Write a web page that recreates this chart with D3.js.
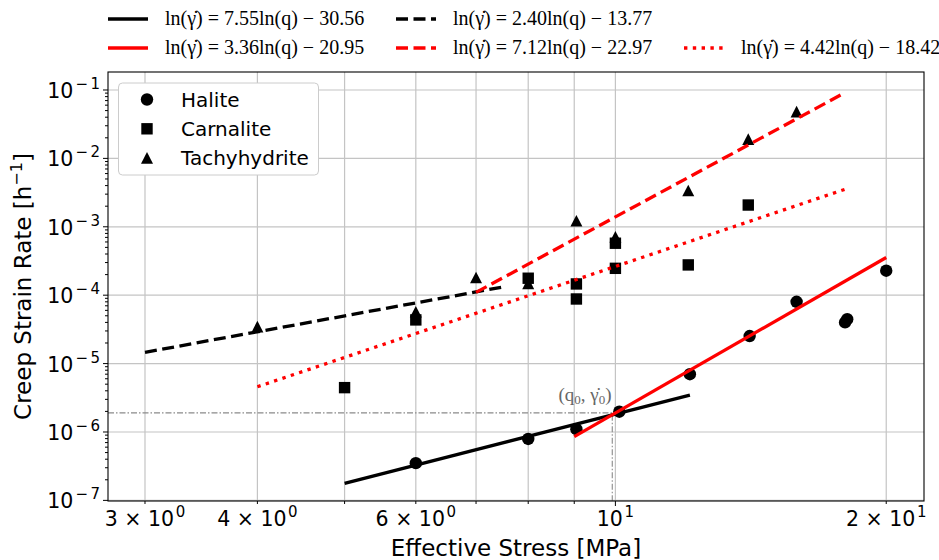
<!DOCTYPE html>
<html>
<head>
<meta charset="utf-8">
<script src="https://cdn.jsdelivr.net/npm/d3@7"></script>
<style>
  body { margin: 0; background: #fff; }
  svg text { font-family: "DejaVu Sans", sans-serif; fill: #000; }
  .serif { font-family: "Liberation Serif", "DejaVu Serif", serif; }
</style>
</head>
<body>
<svg id="chart" width="939" height="560"></svg>
<script>
// ---- measured creep data: effective stress q [MPa] vs. strain rate [1/h] ----
const haliteQ    = [6.0, 8.0, 9.05, 10.1, 12.1, 14.1, 15.9, 18.0, 18.1, 20.0];
const haliteRate = [3.5e-7, 7.9e-7, 1.1e-6, 1.98e-6, 7.0e-6, 2.53e-5, 8.0e-5, 4.0e-5, 4.45e-5, 2.28e-4];

const carnaliteQ    = [5.0, 6.0, 8.0, 9.05, 9.05, 10.0, 10.0, 12.05, 14.05];
const carnaliteRate = [4.45e-6, 4.35e-5, 1.77e-4, 1.46e-4, 8.8e-5, 5.75e-4, 2.47e-4, 2.77e-4, 2.08e-3];

const tachyQ    = [4.0, 6.0, 7.0, 8.0, 9.05, 10.0, 12.05, 14.05, 15.9];
const tachyRate = [3.45e-5, 5.7e-5, 1.8e-4, 1.48e-4, 1.22e-3, 7.1e-4, 3.37e-3, 1.9e-2, 4.8e-2];

// ---- power-law fits ln(rate) = a ln(q) + b, drawn between qStart and qEnd ----
const fitSlope     = [3.36, 7.55, 2.40, 7.12, 4.42];
const fitIntercept = [-20.95, -30.56, -13.77, -22.97, -18.42];
const fitQStart    = [5.0, 9.0, 3.0, 7.0, 4.0];
const fitQEnd      = [12.1, 20.0, 7.5, 18.0, 18.0];

// legend texts of the fit lines (same order as the fits above)
const fitLabels = [
  "7.55ln(q) − 30.56",
  "3.36ln(q) − 20.95",
  "2.40ln(q) − 13.77",
  "7.12ln(q) − 22.97",
  "4.42ln(q) − 18.42"
];

// transition point between the two halite regimes
const q0 = 9.92;
const rate0 = 1.9e-6;

// axis ticks
const xGridTicks  = [3, 4, 5, 6, 7, 8, 9, 10, 20];
const xLabelTicks = [3, 4, 6, 10, 20];
const xLabelMant  = ["3 × 10", "4 × 10", "6 × 10", "10", "2 × 10"];
const xLabelExp   = ["0", "0", "0", "1", "1"];
const yDecades    = [-7, -6, -5, -4, -3, -2, -1];

// ---------------------------------------------------------------------------
const svg = d3.select("#chart");
const L = 108, R = 924, T = 72, B = 501;

const x = d3.scaleLog().domain([2.729, 22.03]).range([L, R]);
const y = d3.scaleLog().domain([Math.pow(10, -7.009), Math.pow(10, -0.737)]).range([B, T]);

svg.append("defs").append("clipPath").attr("id", "plotclip")
  .append("rect").attr("x", L).attr("y", T).attr("width", R - L).attr("height", B - T);

// grid
const grid = svg.append("g").attr("stroke", "#c4c4c4").attr("stroke-width", 1.2);
grid.selectAll("line.gx").data(xGridTicks).join("line")
  .attr("x1", d => x(d)).attr("x2", d => x(d)).attr("y1", T).attr("y2", B);
grid.selectAll("line.gy").data(yDecades).join("line")
  .attr("y1", d => y(Math.pow(10, d))).attr("y2", d => y(Math.pow(10, d))).attr("x1", L).attr("x2", R);

const plot = svg.append("g").attr("clip-path", "url(#plotclip)");

// reference lines through (q0, rate0)
plot.append("path")
  .attr("d", d3.line()([[L, y(rate0)], [x(q0), y(rate0)], [x(q0), B]]))
  .attr("fill", "none").attr("stroke", "#8a8a8a").attr("stroke-width", 1.1)
  .attr("stroke-dasharray", "6,2,1.5,2");

// markers
const triPath = "M0,-6L-6,5.6L6,5.6Z";
plot.append("g").selectAll("circle").data(d3.zip(haliteQ, haliteRate)).join("circle")
  .attr("cx", d => x(d[0])).attr("cy", d => y(d[1])).attr("r", 6.2).attr("fill", "#000");
plot.append("g").selectAll("rect").data(d3.zip(carnaliteQ, carnaliteRate)).join("rect")
  .attr("x", d => x(d[0]) - 5.7).attr("y", d => y(d[1]) - 5.7)
  .attr("width", 11.4).attr("height", 11.4).attr("fill", "#000");
plot.append("g").selectAll("path").data(d3.zip(tachyQ, tachyRate)).join("path")
  .attr("transform", d => `translate(${x(d[0])},${y(d[1])})`)
  .attr("d", triPath).attr("fill", "#000");

// fit line styles
const fitStyle = [
  { color: "#000000", dash: null },
  { color: "#ff0000", dash: null },
  { color: "#000000", dash: "12,5.5" },
  { color: "#ff0000", dash: "12,5.5" },
  { color: "#ff0000", dash: "3.4,5.4" }
];
const lineGen = d3.line().x(d => x(d[0])).y(d => y(d[1]));
fitSlope.forEach((a, i) => {
  const b = fitIntercept[i];
  const pts = [fitQStart[i], fitQEnd[i]].map(q => [q, Math.exp(a * Math.log(q) + b)]);
  plot.append("path").attr("d", lineGen(pts))
    .attr("fill", "none").attr("stroke", fitStyle[i].color).attr("stroke-width", 3.3)
    .attr("stroke-dasharray", fitStyle[i].dash);
});

// annotation for (q0, rate0)
const ann = svg.append("text").attr("class", "serif").attr("x", 585).attr("y", 401)
  .attr("text-anchor", "middle").attr("font-size", 19).style("fill", "#666");
ann.append("tspan").text("(q");
ann.append("tspan").attr("dy", 3).attr("font-size", 13).text("0");
ann.append("tspan").attr("dy", -3).text(", γ̇");
ann.append("tspan").attr("dy", 3).attr("font-size", 13).text("0");
ann.append("tspan").attr("dy", -3).text(")");

// spines
svg.append("rect").attr("x", L).attr("y", T).attr("width", R - L).attr("height", B - T)
  .attr("fill", "none").attr("stroke", "#000").attr("stroke-width", 1.1);

// x ticks
const xt = svg.append("g").attr("stroke", "#000").attr("stroke-width", 1);
xt.selectAll("line").data(xGridTicks).join("line")
  .attr("x1", d => x(d)).attr("x2", d => x(d)).attr("y1", B)
  .attr("y2", d => B + (d === 10 ? 5 : 3));
xLabelTicks.forEach((v, i) => {
  const t = svg.append("text").attr("x", x(v)).attr("y", 526)
    .attr("text-anchor", "middle").attr("font-size", 20.5);
  t.append("tspan").text(xLabelMant[i]);
  t.append("tspan").attr("dx", 1.5).attr("dy", -9).attr("font-size", 15).text(xLabelExp[i]);
});

// y ticks (major decades + minor)
const yt = svg.append("g").attr("stroke", "#000").attr("stroke-width", 1);
const yMinor = [];
yDecades.forEach(e => { for (let m = 2; m <= 9; m++) yMinor.push(m * Math.pow(10, e)); });
yMinor.push(...[2, 3, 4, 5, 6, 7, 8, 9].map(m => m * 1e-8));
yt.selectAll("line.minor").data(yMinor.filter(v => v >= y.domain()[0] && v <= y.domain()[1])).join("line")
  .attr("x1", L).attr("x2", L - 3).attr("y1", d => y(d)).attr("y2", d => y(d));
yt.selectAll("line.major").data(yDecades).join("line")
  .attr("x1", L).attr("x2", L - 5)
  .attr("y1", d => y(Math.pow(10, d))).attr("y2", d => y(Math.pow(10, d)));
yDecades.forEach(e => {
  const t = svg.append("text").attr("x", 100).attr("y", y(Math.pow(10, e)) + 8)
    .attr("text-anchor", "end").attr("font-size", 20.5);
  t.append("tspan").text("10");
  t.append("tspan").attr("dx", 2).attr("dy", -9).attr("font-size", 15).text("−");
  t.append("tspan").attr("dx", 2.5).attr("font-size", 15).text(Math.abs(e));
});

// axis titles
svg.append("text").attr("x", (L + R) / 2).attr("y", 556).attr("text-anchor", "middle")
  .attr("font-size", 23).text("Effective Stress [MPa]");
const yl = svg.append("text").attr("transform", `translate(31,${(T + B) / 2}) rotate(-90)`)
  .attr("text-anchor", "middle").attr("font-size", 23);
yl.append("tspan").text("Creep Strain Rate [h");
yl.append("tspan").attr("dy", -9).attr("font-size", 16).text("−1");
yl.append("tspan").attr("dy", 9).text("]");

// marker legend
const lg = svg.append("g");
lg.append("rect").attr("x", 118.5).attr("y", 83).attr("width", 200).attr("height", 92)
  .attr("rx", 4).attr("fill", "#fff").attr("stroke", "#cccccc").attr("stroke-width", 1);
const seriesNames = ["Halite", "Carnalite", "Tachyhydrite"];
seriesNames.forEach((name, i) => {
  const cy = 99.5 + i * 29.3, cx = 147;
  if (i === 0) lg.append("circle").attr("cx", cx).attr("cy", cy).attr("r", 6.2).attr("fill", "#000");
  if (i === 1) lg.append("rect").attr("x", cx - 5.7).attr("y", cy - 5.7).attr("width", 11.4).attr("height", 11.4).attr("fill", "#000");
  if (i === 2) lg.append("path").attr("transform", `translate(${cx},${cy})`).attr("d", triPath).attr("fill", "#000");
  lg.append("text").attr("x", 181).attr("y", cy + 7).attr("font-size", 20).text(name);
});

// fit legend above the axes (3 columns)
const fitCell = [[0, 0], [0, 1], [1, 0], [1, 1], [2, 1]];
const colX = [108, 396, 684];
const rowY = [19, 48];
const fl = svg.append("g");
fitLabels.forEach((lab, i) => {
  const [c, r] = fitCell[i];
  const hx = colX[c], hy = rowY[r];
  fl.append("line").attr("x1", hx).attr("x2", hx + 40).attr("y1", hy).attr("y2", hy)
    .attr("stroke", fitStyle[i].color).attr("stroke-width", 3.3)
    .attr("stroke-dasharray", fitStyle[i].dash);
  const t = fl.append("text").attr("class", "serif").attr("x", hx + 57).attr("y", hy + 6)
    .attr("font-size", 20);
  t.append("tspan").text("ln(γ̇) = " + lab);
});
</script>
</body>
</html>
